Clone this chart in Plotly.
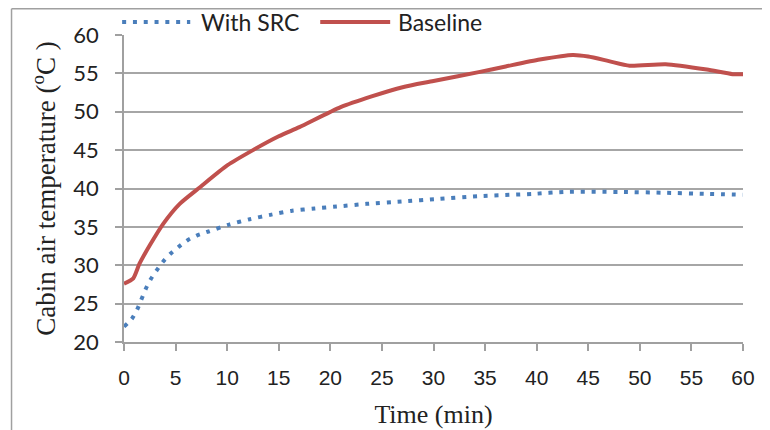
import plotly.graph_objects as go

# ---- data ----
src_time = [0, 0.75, 1.3, 2.1, 2.6, 3.2, 3.8, 4.5, 5.3, 6.2, 7.1, 8.2, 10.2, 12.2, 14.3,
            16.3, 18.5, 20.6, 23.5, 26.9, 30.5, 34.3, 39.7, 42.7, 48.1, 52.3, 56.5, 60]
src_temp = [22.0, 23.0, 24.3, 26.9, 28.2, 29.4, 30.5, 31.5, 32.4, 33.3, 33.9, 34.4, 35.3, 36.0, 36.6,
            37.1, 37.4, 37.65, 38.0, 38.3, 38.65, 39.0, 39.3, 39.55, 39.55, 39.45, 39.3, 39.2]

base_time = [0, 0.9, 1.5, 2.5, 3.8, 5.4, 7.4, 10, 12.5, 15, 17, 21, 24, 27, 30,
             34.5, 37, 40.3, 43.5, 45, 47, 49, 52.5, 56.5, 59, 60]
base_temp = [27.6, 28.3, 30.2, 32.6, 35.4, 38.0, 40.2, 43.0, 45.0, 46.8, 48.0, 50.6, 52.0, 53.2, 54.0,
             55.2, 55.9, 56.8, 57.4, 57.2, 56.6, 56.0, 56.2, 55.5, 54.9, 54.9]

series_names = ["With SRC", "Baseline"]
series_colors = ["#4A7EBB", "#C0504D"]

x_ticks = list(range(0, 61, 5))
y_ticks = list(range(20, 61, 5))

SRC_DASH = "4px,6.8px"

fig = go.Figure()
fig.add_trace(go.Scatter(
    x=src_time, y=src_temp, name=series_names[0], mode="lines", showlegend=False,
    line=dict(color=series_colors[0], width=4, dash=SRC_DASH, shape="spline", smoothing=0.6),
))
fig.add_trace(go.Scatter(
    x=base_time, y=base_temp, name=series_names[1], mode="lines", showlegend=False,
    line=dict(color=series_colors[1], width=4, shape="spline", smoothing=0.6),
))

# legend drawn in the top margin (paper coordinates)
leg_y = 1.042
legend_shapes = [
    dict(type="line", xref="paper", yref="paper", x0=-0.003, x1=0.107, y0=leg_y, y1=leg_y,
         line=dict(color=series_colors[0], width=4, dash=SRC_DASH)),
    dict(type="line", xref="paper", yref="paper", x0=0.317, x1=0.43, y0=leg_y, y1=leg_y,
         line=dict(color=series_colors[1], width=4)),
]
legend_texts = [
    dict(text=series_names[0], xref="paper", yref="paper", x=0.121, y=leg_y,
         xanchor="left", yanchor="middle", showarrow=False,
         font=dict(family="Lato", size=23, color="#222222")),
    dict(text=series_names[1], xref="paper", yref="paper", x=0.44, y=leg_y,
         xanchor="left", yanchor="middle", showarrow=False,
         font=dict(family="Lato", size=23, color="#222222")),
]

border_shapes = [
    dict(type="line", xref="paper", yref="paper", x0=-0.1817, x1=-0.1817, y0=1.0855, y1=-0.35,
         line=dict(color="#A0A0A0", width=1.5)),
    dict(type="line", xref="paper", yref="paper", x0=-0.1817, x1=1.1, y0=1.0855, y1=1.0855,
         line=dict(color="#A0A0A0", width=1.5)),
]

fig.update_layout(
    width=770, height=430,
    margin=dict(l=116, r=35, t=27, b=96, autoexpand=False),
    paper_bgcolor="white", plot_bgcolor="white",
    showlegend=False,
    xaxis=dict(
        range=[0, 60], tickvals=x_ticks, ticktext=[str(v) for v in x_ticks],
        showgrid=False, zeroline=False, automargin=False,
        showline=True, linecolor="#A0A0A0", linewidth=1.5,
        ticks="outside", ticklen=7, tickcolor="#A0A0A0", tickwidth=1.5,
        ticklabelstandoff=9,
        tickfont=dict(family="Liberation Sans", size=21, color="#222222"),
        title=dict(text="Time (min)", font=dict(family="Liberation Serif", size=26, color="#222222"),
                   standoff=17),
    ),
    yaxis=dict(
        range=[20, 60], tickvals=y_ticks, ticktext=[str(v) for v in y_ticks],
        showgrid=True, gridcolor="#A6A6A6", gridwidth=1.5, zeroline=False, automargin=False,
        showline=True, linecolor="#A0A0A0", linewidth=1.5,
        ticks="outside", ticklen=7, tickcolor="#A0A0A0", tickwidth=1.5,
        ticklabelstandoff=12,
        tickfont=dict(family="Lato", size=22, color="#222222"),
        title=dict(text="Cabin air temperature (<sup>o</sup>C )",
                   font=dict(family="Liberation Serif", size=27, color="#222222"), standoff=10),
    ),
    shapes=border_shapes + legend_shapes,
    annotations=legend_texts,
)

fig.write_html("out.html")
